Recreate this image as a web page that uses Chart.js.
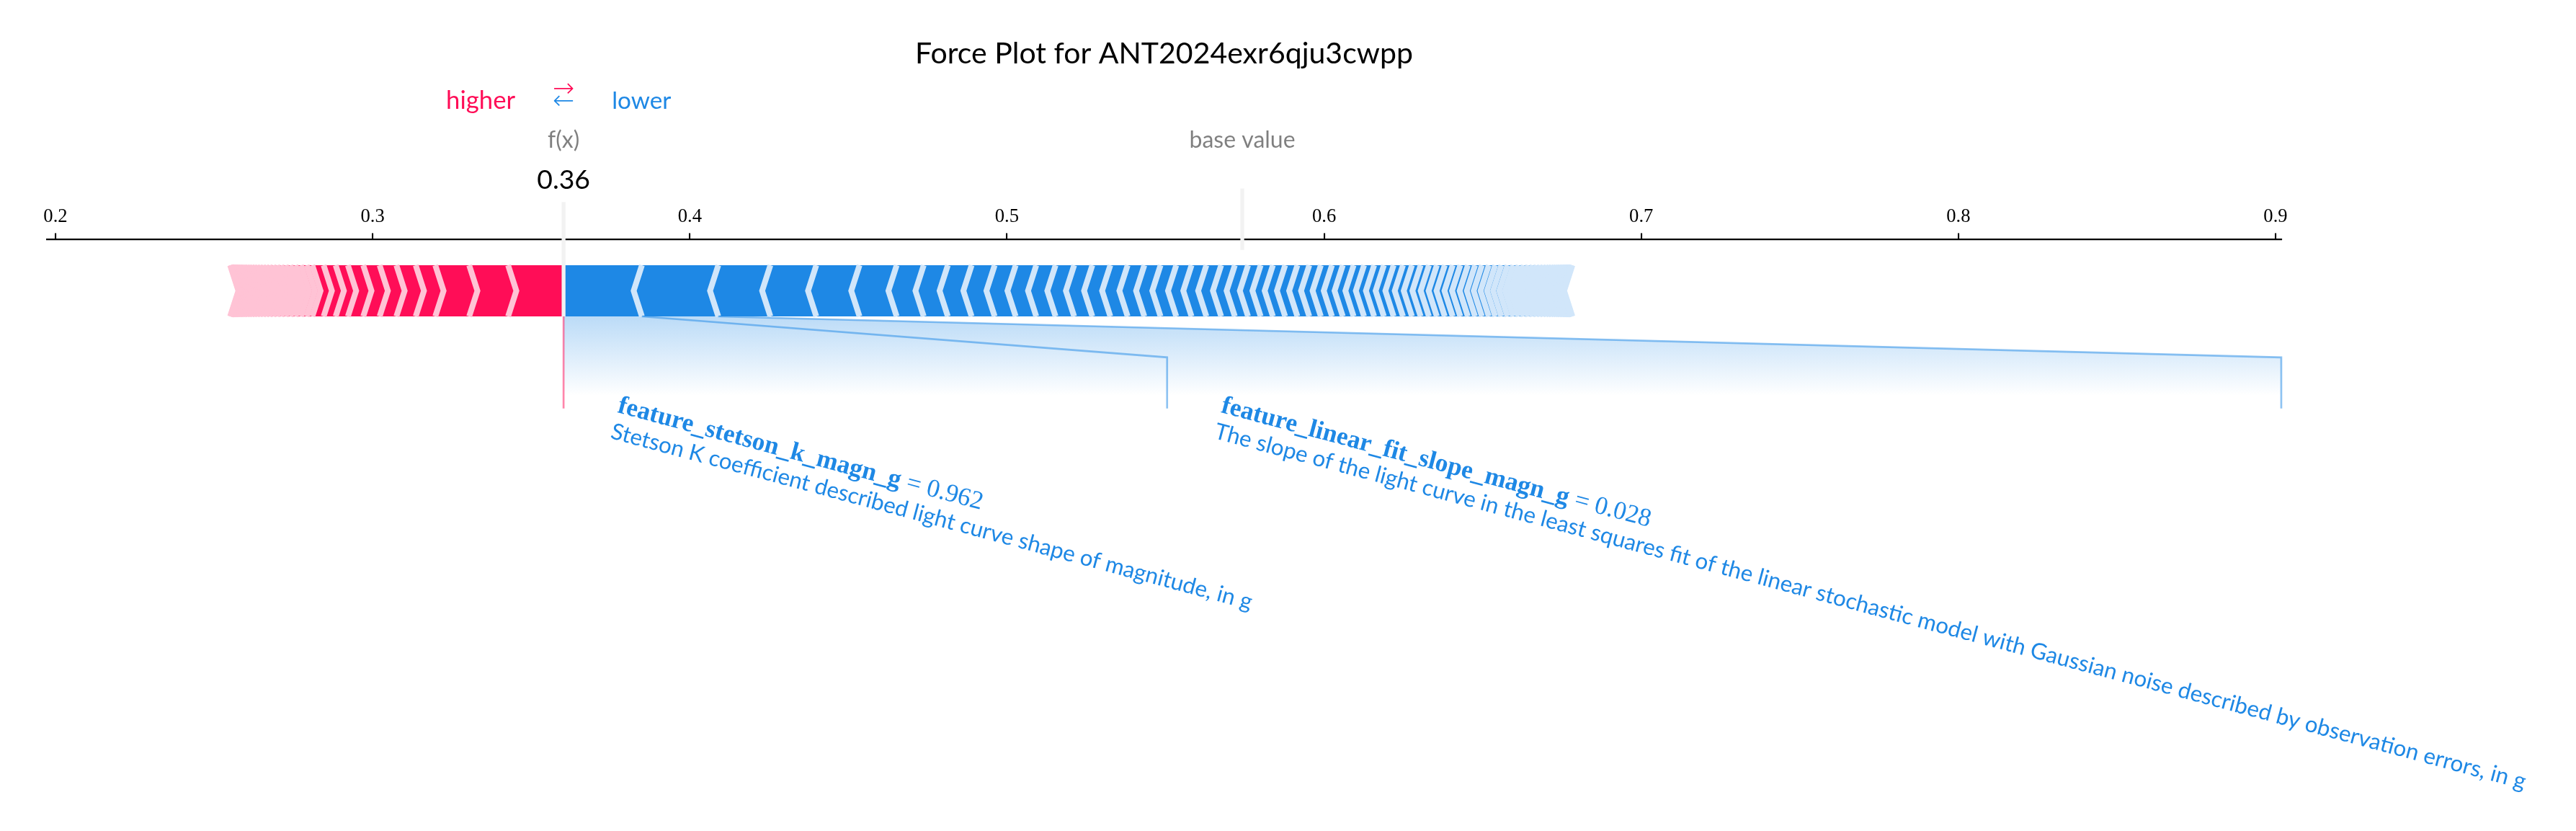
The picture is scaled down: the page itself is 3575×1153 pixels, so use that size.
<!DOCTYPE html>
<html>
<head>
<meta charset="utf-8">
<script src="https://cdn.jsdelivr.net/npm/chart.js@4.4.0/dist/chart.umd.min.js"></script>
<style>
  html, body { margin: 0; padding: 0; background: #ffffff; overflow: hidden; }
  #wrap { width: 3575px; height: 1153px; position: relative; }
</style>
</head>
<body>
<div id="wrap"><canvas id="c" width="3575" height="1153"></canvas></div>
<script>
// ---------------- data ----------------
const titleText = 'Force Plot for ANT2024exr6qju3cwpp';
const outName = 'f(x)';
const outValue = 0.3602;
const baseValue = 0.5742;
const xLimits = [0.19727, 0.90181];
const xTicks = [0.2, 0.3, 0.4, 0.5, 0.6, 0.7, 0.8, 0.9];

// SHAP contributions pushing the prediction higher (red), largest first
const positiveEffects = [0.01749, 0.01227, 0.01068, 0.00618, 0.00609, 0.00529, 0.00516, 0.00484, 0.00386, 0.00379, 0.00357,
  0.0018, 0.0018, 0.0017, 0.0016, 0.0015, 0.0014, 0.0013, 0.0012, 0.0012, 0.0011, 0.0010, 0.0010, 0.0009, 0.0009,
  0.0008, 0.0008, 0.0007, 0.0007, 0.0006, 0.0006, 0.0005, 0.0005, 0.0004, 0.0004, 0.0003, 0.0003, 0.0002, 0.0002,
  0.0002, 0.0001, 0.0001, 0.0001];

// SHAP contributions pushing the prediction lower (blue), largest first (absolute values)
const negativeEffects = [0.02470, 0.02408, 0.01643, 0.01447, 0.01363, 0.01172, 0.00852, 0.00761, 0.00750, 0.00727,
  0.00663, 0.00648, 0.00609, 0.00586, 0.00573, 0.00568, 0.00545, 0.00527, 0.00511, 0.00495, 0.00482, 0.00468,
  0.00466, 0.00432, 0.00416, 0.00398, 0.00386, 0.00386, 0.00386, 0.00375, 0.00364, 0.00352, 0.00341, 0.00341,
  0.00329, 0.00318, 0.00307, 0.00307, 0.00295, 0.00284, 0.00273, 0.00261, 0.00250, 0.00250, 0.00250, 0.00239,
  0.00239, 0.00227, 0.00216, 0.00216, 0.00204, 0.00193, 0.00193, 0.00182, 0.00170, 0.00159, 0.00148, 0.00136,
  0.00125, 0.00114, 0.00102, 0.00102, 0.00091, 0.00080, 0.00080, 0.00068, 0.00068, 0.00057, 0.00057, 0.00045,
  0.00045, 0.00034, 0.00034, 0.00034, 0.00023, 0.00023, 0.00023, 0.00023, 0.00011, 0.00011];

// labelled (largest) lower-pushing features
const negLabelNames = ['feature_stetson_k_magn_g', 'feature_linear_fit_slope_magn_g'];
const negLabelValues = ['0.962', '0.028'];
const negLabelDescriptions = [
  'Stetson K coefficient described light curve shape of magnitude, in g',
  'The slope of the light curve in the least squares fit of the linear stochastic model with Gaussian noise described by observation errors, in g'
];
const negLabelBoxEnds = [0.5505, 0.9018];

// ---------------- style ----------------
const PT = 2.667;
const SANS = 'Lato, "Open Sans", sans-serif';
const SERIF = '"Liberation Serif", "DejaVu Serif", serif';
const ARROW_FONT = '"DejaVu Sans", sans-serif';
const POS_COLORS = ['#FF0D57', '#FFC3D5'];
const NEG_COLORS = ['#1E88E5', '#D1E6FA'];
const BAR_WIDTH = 0.1;
const SEP_INDENT = 0.0026;
const MIN_PERC = 0.05;
const AXIS_TOP_PX = 332.5;
const TITLE_PAD_TOP = 50;
const TITLE_SIZE = 41;
const LABEL_NAME_SIZE = 35.5;
const LABEL_DESC_SIZE = 31.3;

// ---------------- geometry built from the data ----------------
function sum(a) { return a.reduce((s, v) => s + v, 0); }
const totalNeg = sum(negativeEffects) - negativeEffects[0];
const totalPos = sum(positiveEffects) - positiveEffects[0];
const totalEffect = totalNeg + totalPos;
const offsetText = totalEffect * 0.04;

function buildBars(effects, type) {
  const rects = [], seps = [];
  let pre = outValue;
  const W = BAR_WIDTH;
  effects.forEach((e, i) => {
    let left, right, indent, sepPos;
    if (type === 'positive') { left = pre - e; right = pre; pre = left; indent = SEP_INDENT; sepPos = left; }
    else { left = pre; right = pre + e; pre = right; indent = -SEP_INDENT; sepPos = right; }
    let pts;
    if (i === 0) {
      pts = type === 'positive'
        ? [[left, 0], [right, 0], [right, W], [left, W], [left + indent, W / 2]]
        : [[right, 0], [left, 0], [left, W], [right, W], [right + indent, W / 2]];
    } else {
      pts = [[left, 0], [right, 0], [right + indent * 0.9, W / 2], [right, W], [left, W], [left + indent * 0.9, W / 2]];
    }
    pts.push(pts[0]);
    rects.push(pts);
    seps.push([[sepPos, 0], [sepPos + indent, W / 2], [sepPos, W]]);
  });
  return { rects, seps };
}

function buildNegLabels() {
  let pre = outValue, startText = outValue, boxEnd = outValue;
  const labels = [], lines = [];
  for (let i = 0; i < negativeEffects.length && i < negLabelNames.length; i++) {
    const val = pre + negativeEffects[i];
    if (Math.abs(val - pre) / totalEffect < MIN_PERC) break;
    const bEnd = negLabelBoxEnds[i];
    labels.push({ i, x: startText + offsetText });
    lines.push([[val, 0], [bEnd, -0.08], [bEnd, -0.18]]);
    startText = bEnd; boxEnd = bEnd; pre = val;
  }
  return { labels, lines, boxEnd, pre };
}

const negBars = buildBars(negativeEffects, 'negative');
const posBars = buildBars(positiveEffects, 'positive');
const negLab = buildNegLabels();
const shadePoly = [[outValue, 0], [negLab.pre, 0], [negLab.boxEnd, -0.08], [negLab.boxEnd, -0.2], [outValue, -0.2], [outValue, 0]];

function toXY(pts) { return pts.map(p => ({ x: p[0], y: p[1] })); }
function polyDS(pts, color) {
  return { data: toXY(pts), fill: 'shape', backgroundColor: color, borderColor: 'rgba(0,0,0,0)', borderWidth: 0,
           pointRadius: 0, tension: 0, clip: false };
}
function lineDS(pts, color, width) {
  return { data: toXY(pts), fill: false, borderColor: color, borderWidth: width, pointRadius: 0, tension: 0,
           borderCapStyle: 'butt', borderJoinStyle: 'miter', clip: false };
}

const shadeColor = (ctx) => {
  const ch = ctx.chart;
  if (!ch.chartArea || !ch.scales.y) return 'rgba(30,136,229,0.15)';
  const y = ch.scales.y;
  const g = ch.ctx.createLinearGradient(0, y.getPixelForValue(0), 0, y.getPixelForValue(-0.155));
  g.addColorStop(0, 'rgba(30,136,229,0.3)');
  g.addColorStop(1, 'rgba(30,136,229,0)');
  return g;
};

// paint order (first = bottom)
const paint = [];
paint.push(polyDS(shadePoly, shadeColor));
negBars.rects.forEach(p => paint.push(polyDS(p, NEG_COLORS[0])));
negBars.seps.forEach(p => paint.push(lineDS(p, NEG_COLORS[1], 3 * PT)));
posBars.rects.forEach(p => paint.push(polyDS(p, POS_COLORS[0])));
posBars.seps.forEach(p => paint.push(lineDS(p, POS_COLORS[1], 3 * PT)));
negLab.lines.forEach(p => paint.push(lineDS(p, 'rgba(30,136,229,0.5)', 1 * PT)));
paint.push(lineDS([[outValue, 0], [outValue, -0.18]], 'rgba(255,13,87,0.5)', 1 * PT));
paint.push(lineDS([[baseValue, 0.13], [baseValue, 0.25]], '#F2F2F2', 2 * PT));
paint.push(lineDS([[outValue, 0], [outValue, 0.24]], '#F2F2F2', 2 * PT));
const datasets = paint.slice().reverse();

// ---------------- text plugin ----------------
const forceText = {
  id: 'forceText',
  afterDraw(chart) {
    const c = chart.ctx, sx = chart.scales.x, sy = chart.scales.y;
    const X = v => sx.getPixelForValue(v), Y = v => sy.getPixelForValue(v);
    c.save();
    c.textBaseline = 'alphabetic';
    // higher / lower legend
    c.font = `${13 * PT}px ${SANS}`;
    c.fillStyle = POS_COLORS[0]; c.textAlign = 'right';
    c.fillText('higher', X(outValue - offsetText), Y(0.405));
    c.fillStyle = NEG_COLORS[0]; c.textAlign = 'left';
    c.font = `${12.5 * PT}px ${SANS}`;
    c.fillText('lower', X(outValue + offsetText), Y(0.405));
    c.font = `300 36px ${ARROW_FONT}`; c.textAlign = 'center'; c.textBaseline = 'middle';
    c.fillStyle = POS_COLORS[0]; c.fillText('\u2192', X(outValue), Y(0.425) - 13);
    c.fillStyle = NEG_COLORS[0]; c.fillText('\u2190', X(outValue), Y(0.4) - 13);
    // base value & f(x)
    c.textBaseline = 'alphabetic';
    c.font = `${12 * PT}px ${SANS}`; c.fillStyle = 'rgba(0,0,0,0.5)';
    c.fillText('base value', X(baseValue), Y(0.33));
    c.fillText(outName, X(outValue), Y(0.33));
    // output value with white box
    const size = 14 * PT;
    c.font = `${size}px ${SANS}`;
    const s = outValue.toFixed(2);
    const w = c.measureText(s).width, pad = 4 * PT;
    c.fillStyle = '#ffffff';
    c.fillRect(X(outValue) - w / 2 - pad, Y(0.25) - 0.74 * size - pad, w + 2 * pad, 0.96 * size + 2 * pad);
    c.fillStyle = '#000000';
    c.fillText(s, X(outValue), Y(0.25));
    // feature labels
    negLab.labels.forEach(L => {
      const x0 = X(L.x) + 13, y0 = Y(-0.15) + 2;
      c.save();
      c.translate(x0, y0);
      c.rotate(15 * Math.PI / 180);
      c.fillStyle = NEG_COLORS[0]; c.textAlign = 'left'; c.textBaseline = 'alphabetic';
      c.font = `bold ${LABEL_NAME_SIZE}px ${SERIF}`;
      c.fillText(negLabelNames[L.i], 0, 25);
      const nw = c.measureText(negLabelNames[L.i]).width;
      c.font = `${LABEL_NAME_SIZE}px ${SERIF}`;
      c.fillText(' = ' + negLabelValues[L.i], nw, 25);
      c.font = `${LABEL_DESC_SIZE}px ${SANS}`;
      c.fillText(negLabelDescriptions[L.i], 0, 62.5);
      c.restore();
    });
    c.restore();
  }
};

const whiteBg = {
  id: 'whiteBg',
  beforeDraw(chart) {
    const c = chart.ctx; c.save(); c.fillStyle = '#ffffff'; c.fillRect(0, 0, chart.width, chart.height); c.restore();
  }
};

new Chart(document.getElementById('c'), {
  type: 'line',
  data: { datasets },
  options: {
    responsive: false,
    animation: false,
    devicePixelRatio: 1,
    events: [],
    layout: { padding: { left: 65, right: 409, top: 0, bottom: 359 } },
    elements: { point: { radius: 0 }, line: { tension: 0 } },
    plugins: {
      legend: { display: false },
      tooltip: { enabled: false },
      title: {
        display: true, text: titleText, color: '#000000',
        font: { family: SANS, size: TITLE_SIZE, weight: 'normal', lineHeight: 1.2 },
        padding: { top: TITLE_PAD_TOP, bottom: 0 }
      }
    },
    scales: {
      x: {
        type: 'linear', position: 'top', min: xLimits[0], max: xLimits[1],
        afterBuildTicks: (s) => { s.ticks = xTicks.map(v => ({ value: v })); },
        afterFit: (s) => { s.height = AXIS_TOP_PX - (TITLE_PAD_TOP + TITLE_SIZE * 1.2); },
        ticks: {
          autoSkip: false, maxRotation: 0, padding: 7, color: '#000000',
          font: { family: SERIF, size: 10 * PT },
          callback: (v) => Number(v).toFixed(1)
        },
        grid: { display: true, drawOnChartArea: false, drawTicks: true, tickLength: 9, color: '#000000', lineWidth: 2.1 },
        border: { display: true, color: '#000000', width: 2.3 }
      },
      y: { type: 'linear', display: false, min: -0.5, max: 0.15 }
    }
  },
  plugins: [whiteBg, forceText]
});
</script>
</body>
</html>
